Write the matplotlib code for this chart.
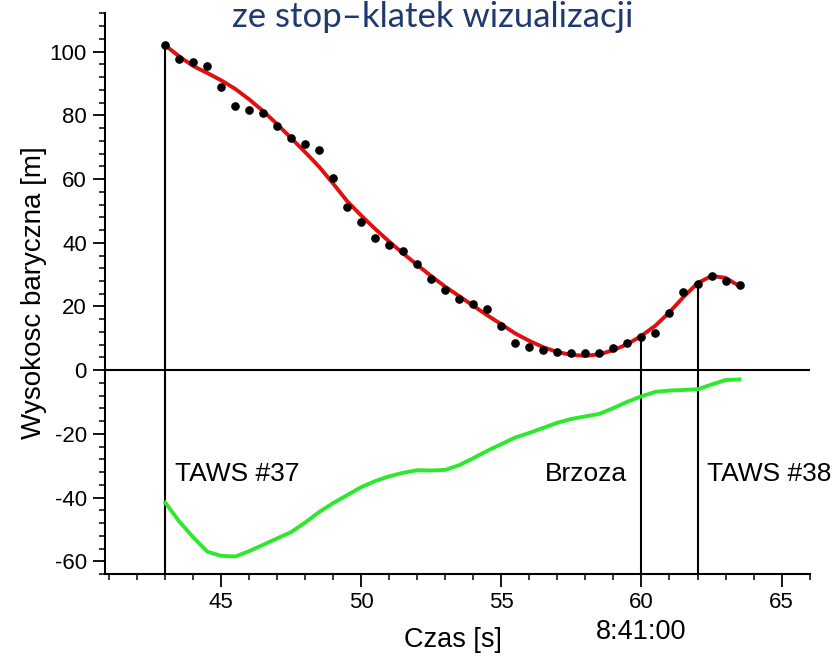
"""Barometric altitude vs time, with fit and event markers."""
import matplotlib
matplotlib.use("Agg")
import matplotlib.pyplot as plt
from matplotlib.ticker import MultipleLocator

plt.rcParams["font.family"] = ["Liberation Sans", "DejaVu Sans"]
plt.rcParams["axes.unicode_minus"] = False

# measured altitude points (from video frames)
dot_t = [43.0, 43.5, 44.0, 44.5, 45.0, 45.5, 46.0, 46.5, 47.0, 47.5, 48.0, 48.5,
         49.0, 49.5, 50.0, 50.5, 51.0, 51.5, 52.0, 52.5, 53.0, 53.5, 54.0, 54.5,
         55.0, 55.5, 56.0, 56.5, 57.0, 57.5, 58.0, 58.5, 59.0, 59.5, 60.0, 60.5,
         61.0, 61.5, 62.0, 62.5, 63.0, 63.5]
dot_h = [102.0, 97.6, 96.7, 95.4, 88.9, 83.0, 81.7, 80.9, 76.7, 72.8, 71.1, 69.0,
         60.3, 51.2, 46.4, 41.5, 39.2, 37.5, 33.3, 28.7, 25.3, 22.5, 20.9, 19.2,
         14.0, 8.6, 7.3, 6.2, 5.6, 5.3, 5.3, 5.3, 6.9, 8.4, 10.4, 11.6,
         18.1, 24.4, 27.1, 29.5, 27.9, 26.6]

# smooth fit (red)
fit_t = dot_t
fit_h = [102.0, 98.5, 95.5, 93.3, 91.0, 88.3, 85.0, 81.3, 77.2, 72.8, 68.4, 63.8,
         58.5, 53.0, 48.5, 44.3, 40.3, 36.6, 33.0, 29.5, 26.2, 23.2, 20.2, 17.2,
         14.4, 11.5, 9.2, 7.2, 5.7, 4.8, 4.5, 5.0, 6.3, 8.2, 10.8, 14.0,
         18.2, 23.0, 27.3, 29.6, 29.0, 26.4]

# green trace
green_t = dot_t
green_h = [-41.6, -47.5, -52.5, -57.0, -58.3, -58.5, -56.8, -54.8, -52.8, -50.8,
           -47.8, -44.5, -41.7, -39.2, -36.7, -34.8, -33.3, -32.2, -31.4, -31.5,
           -31.3, -29.8, -27.6, -25.3, -23.2, -21.1, -19.7, -18.1, -16.5, -15.3,
           -14.5, -13.7, -11.9, -9.9, -8.2, -6.8, -6.4, -6.2, -6.0, -4.5, -3.1, -2.9]

events = ["TAWS #37", "Brzoza", "TAWS #38"]
event_t = [43.0, 60.0, 62.0]

fig = plt.figure(figsize=(8.39, 6.61), dpi=100)
ax = fig.add_axes([0.1252, 0.1316, 0.8397, 0.848])

ax.plot(fit_t, fit_h, color="#e01010", linewidth=2.8, zorder=3)
ax.plot(dot_t, dot_h, "o", color="black", markersize=5.2, zorder=4)
ax.plot(green_t, green_h, color="#2ee82e", linewidth=2.8, zorder=3)

ax.axhline(0, color="black", linewidth=1.5, zorder=2)
for t in event_t:
    top = fit_h[fit_t.index(t)]
    ax.plot([t, t], [-64, top], color="black", linewidth=1.5, zorder=2)

ax.text(43.35, -32.6, events[0], fontsize=19, va="center", ha="left")
ax.text(59.5, -32.6, events[1], fontsize=19, va="center", ha="right")
ax.text(62.35, -32.6, events[2], fontsize=19, va="center", ha="left")

ax.set_xlim(40.85, 66.0)
ax.set_ylim(-64, 112)
ax.xaxis.set_major_locator(MultipleLocator(5))
ax.xaxis.set_minor_locator(MultipleLocator(1))
ax.yaxis.set_major_locator(MultipleLocator(20))
ax.yaxis.set_minor_locator(MultipleLocator(4))
ax.tick_params(which="major", direction="out", length=9, width=1.3,
               labelsize=16, pad=4)
ax.tick_params(which="minor", direction="out", length=4.5, width=1.1)

for s in ["top", "right"]:
    ax.spines[s].set_visible(False)
for s in ["left", "bottom"]:
    ax.spines[s].set_linewidth(1.5)

ax.text(60, -0.1035, "8:41:00", fontsize=19.5, ha="center", va="center",
        transform=ax.get_xaxis_transform())
fig.text(453 / 839, 1 - 640 / 661, "Czas [s]", fontsize=19.5, ha="center", va="center")
fig.text(34 / 839, 1 - 293 / 661, "Wysokosc baryczna [m]", fontsize=20,
         ha="center", va="center", rotation=90)

fig.text(433 / 839, 0.999, "ze stop–klatek wizualizacji", fontsize=25,
         color="#1f3a6e", ha="center", va="top", family="Lato")

fig.savefig("out.png", dpi=100)
